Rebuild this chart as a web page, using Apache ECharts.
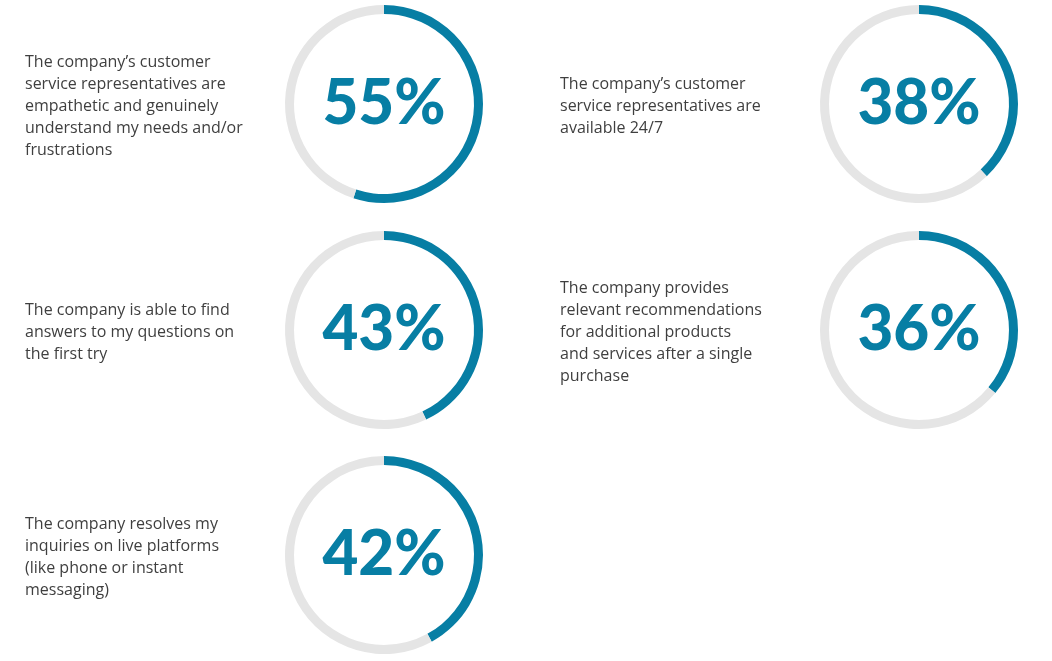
<!DOCTYPE html><html><head><meta charset="utf-8"><script src="https://cdn.jsdelivr.net/npm/echarts@6/dist/echarts.min.js"></script>
<style>html,body{margin:0;background:#fff}#c{width:1052px;height:661px}</style></head><body><div id="c"></div><script>
const statements=["The company’s customer\nservice representatives are\nempathetic and genuinely\nunderstand my needs and/or\nfrustrations","The company’s customer\nservice representatives are\navailable 24/7","The company is able to find\nanswers to my questions on\nthe first try","The company provides\nrelevant recommendations\nfor additional products\nand services after a single\npurchase","The company resolves my\ninquiries on live platforms\n(like phone or instant\nmessaging)"];
const values=[55,38,43,36,42];
const centers=[[384,104],[919,104],[384,330],[919,330],[384,555]];
const textX=[25,560,25,560,25];
const chart=echarts.init(document.getElementById('c'));
const series=values.map((v,i)=>({type:'pie',radius:[90,99],center:centers[i],startAngle:90,clockwise:true,silent:true,
 label:{show:false},labelLine:{show:false},
 data:[{value:v,itemStyle:{color:'#077ea4'},label:{show:true,position:'center',formatter:v+'%',fontSize:62,fontWeight:900,color:'#077ea4',fontFamily:'Lato'}},{value:100-v,itemStyle:{color:'#e5e5e5'}}]}));
chart.setOption({animation:false,series,graphic:statements.map((s,i)=>({type:'text',x:textX[i],y:centers[i][1]+2,style:{text:s,font:'16px "Open Sans"',fill:'#3f3f3f',lineHeight:22,verticalAlign:'middle'}}))});
</script></body></html>
